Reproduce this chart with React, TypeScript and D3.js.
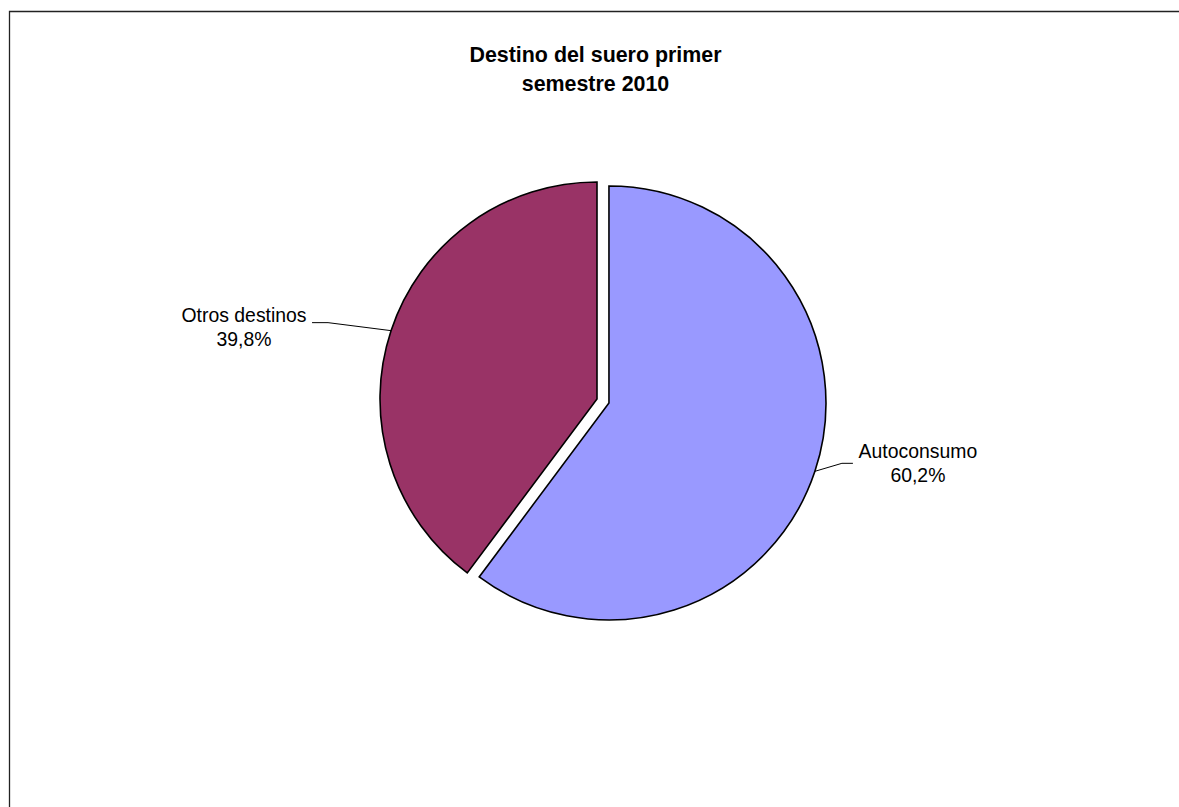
import React from "react";
import * as d3 from "d3";

const titleLines = ["Destino del suero primer", "semestre 2010"];
const categories = ["Autoconsumo", "Otros destinos"];
const values = [60.2, 39.8];
const valueLabels = ["60,2%", "39,8%"];
const colors = ["#9999FF", "#993366"];
const exploded = [true, false];

// layout: leader elbow/end and label placement relative to the slice edge point
const labelLayout = [
  { elbow: [27, -8], end: [38, -8], text: [103, -13], anchor: "middle" },
  { elbow: [-63, -8], end: [-79, -8], text: [-147, -9], anchor: "middle" },
];

const W = 1179;
const H = 807;
const cx = 597;
const cy = 399;
const R = 217;
const explode = 12.6;

export default function App() {
  const pie = d3
    .pie<number>()
    .sort(null)
    .value((d) => d)
    .startAngle(0)
    .endAngle(2 * Math.PI);
  const arcs = pie(values);
  const arcGen = d3.arc<d3.PieArcDatum<number>>().innerRadius(0).outerRadius(R);
  const font = "Arial, 'Liberation Sans', sans-serif";

  return (
    <svg
      width={W}
      height={H}
      style={{ position: "absolute", left: 0, top: 0, background: "#fff" }}
    >
      <rect x={0} y={0} width={W} height={H} fill="#fff" />
      <path d={`M9.5,${H} L9.5,11.5 L${W},11.5`} fill="none" stroke="#222" strokeWidth={1.3} />
      <text
        x={595.5}
        textAnchor="middle"
        fontFamily={font}
        fontWeight="bold"
        fontSize={21.4}
        fill="#000"
      >
        <tspan x={595.5} y={62}>{titleLines[0]}</tspan>
        <tspan x={595.5} y={91}>{titleLines[1]}</tspan>
      </text>
      {arcs.map((a, i) => {
        const mid = (a.startAngle + a.endAngle) / 2;
        const dx = Math.sin(mid);
        const dy = -Math.cos(mid);
        const off = exploded[i] ? explode : 0;
        const ox = cx + dx * off;
        const oy = cy + dy * off;
        const ex = ox + dx * R;
        const ey = oy + dy * R;
        const L = labelLayout[i];
        return (
          <g key={categories[i]}>
            <path
              d={arcGen(a) || ""}
              transform={`translate(${ox},${oy})`}
              fill={colors[i]}
              stroke="#000"
              strokeWidth={1.6}
              strokeLinejoin="miter"
            />
            <polyline
              points={`${ex},${ey} ${ex + L.elbow[0]},${ey + L.elbow[1]} ${ex + L.end[0]},${ey + L.end[1]}`}
              fill="none"
              stroke="#000"
              strokeWidth={1}
            />
            <text
              textAnchor={L.anchor as any}
              fontFamily={font}
              fontSize={19.4}
              fill="#000"
            >
              <tspan x={ex + L.text[0]} y={ey + L.text[1]}>{categories[i]}</tspan>
              <tspan x={ex + L.text[0]} y={ey + L.text[1] + 24}>{valueLabels[i]}</tspan>
            </text>
          </g>
        );
      })}
    </svg>
  );
}
